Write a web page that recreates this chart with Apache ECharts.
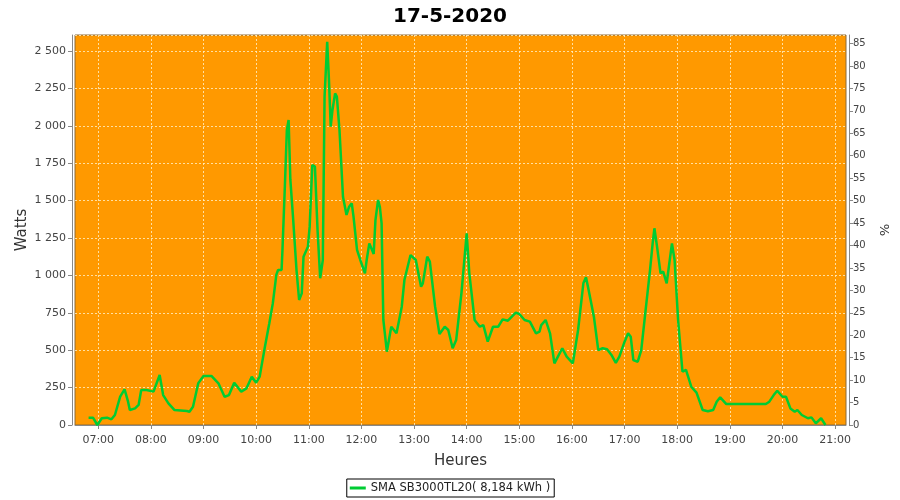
<!DOCTYPE html>
<html>
<head>
<meta charset="utf-8">
<script src="https://cdn.jsdelivr.net/npm/echarts@6/dist/echarts.min.js"></script>
<style>html,body{margin:0;padding:0;background:#fff}#c{width:900px;height:500px}</style>
</head>
<body>
<div id="c"></div>
<script>
// time in minutes since midnight
const times = [409,414,419,424,430,435,439,445,450,454,456,462,466,469,475,483,490,494,500,507,521,524,528,534,540,549,557,564,569,575,583,589,595,600,604,606,610,615,619,623,625,629,630,633,635,637,639,642,646,649,652,654,659,661,664,667,670,673,676,678,681,683,685,687,690,692,695,699,703,706,709,711,715,720,724,726,729,734,736,739,741,743,745,749,754,760,766,769,776,782,788,790,795,798,804,809,815,819,824,828,834,840,843,849,855,859,864,870,876,881,887,896,900,906,912,919,923,925,930,935,940,944,949,954,961,967,973,976,979,985,990,995,1000,1005,1010,1014,1020,1024,1027,1030,1035,1039,1044,1049,1052,1054,1057,1061,1064,1068,1071,1074,1077,1081,1086,1090,1096,1102,1109,1115,1121,1125,1129,1136,1181,1185,1190,1194,1200,1204,1209,1214,1217,1222,1229,1233,1238,1244,1249];
const watts = [49,49,0,45,49,38,67,190,238,156,100,111,134,234,234,223,334,200,145,100,94,89,122,279,328,328,279,189,200,283,223,245,323,283,323,390,523,680,813,1003,1036,1036,1170,1638,1972,2039,1638,1393,1036,836,880,1125,1192,1326,1738,1727,1303,981,1103,2195,2562,2306,1994,2106,2217,2195,1972,1526,1404,1459,1482,1393,1170,1081,1014,1103,1214,1143,1370,1504,1459,1348,702,490,657,613,791,969,1136,1103,924,947,1125,1092,791,608,657,635,513,568,880,1281,1014,702,657,668,557,657,657,706,697,751,742,702,691,613,624,668,702,613,412,457,513,457,412,635,947,987,902,724,501,513,506,468,416,457,557,613,590,434,423,501,769,1036,1214,1315,1192,1014,1025,947,1081,1214,1103,702,356,368,256,216,100,92,100,156,185,140,140,156,200,229,189,189,111,89,100,67,45,51,11,45,0];
const hourTicks = [420,480,540,600,660,720,780,840,900,960,1020,1080,1140,1200,1260];
const titleText = '17-5-2020';
const legendText = 'SMA SB3000TL20( 8,184 kWh )';

const pad = n => (n < 10 ? '0' : '') + n;
const fmtTime = v => pad(Math.floor(v / 60)) + ':' + pad(Math.round(v % 60));
const fmtThousands = v => String(v).replace(/\B(?=(\d{3})+(?!\d))/g, ' ');

const chart = echarts.init(document.getElementById('c'), null, {renderer: 'canvas'});
const font = 'DejaVu Sans';
const gridLine = {show: true, lineStyle: {color: 'rgba(255,240,200,0.8)', type: [2, 2], width: 1}};
chart.setOption({
  animation: false,
  backgroundColor: '#ffffff',
  title: {
    text: titleText, left: 'center', top: 2,
    textStyle: {fontFamily: font, fontSize: 20, fontWeight: 'bold', color: '#000'}
  },
  legend: {
    bottom: 3, left: 'center',
    data: [{name: legendText, icon: 'rect'}],
    itemWidth: 16, itemHeight: 3, itemGap: 3,
    borderColor: '#000', borderWidth: 1, padding: [3, 4, 3, 3],
    textStyle: {fontFamily: font, fontSize: 11.5, color: '#222'}
  },
  grid: {
    left: 75, right: 54, top: 35, bottom: 75,
    show: true, backgroundColor: '#ff9900', borderColor: '#8a6a3a', borderWidth: 1
  },
  xAxis: {
    type: 'value', min: 393.5, max: 1272.4,
    name: 'Heures', nameLocation: 'middle', nameGap: 25,
    nameTextStyle: {fontFamily: font, fontSize: 15, color: '#333'},
    offset: 4,
    axisLine: {show: true, lineStyle: {color: '#888'}},
    axisTick: {show: true, length: 4, lineStyle: {color: '#888'}, customValues: hourTicks},
    axisLabel: {customValues: hourTicks, formatter: fmtTime, fontFamily: font, fontSize: 11, color: '#444', margin: 6},
    splitLine: gridLine
  },
  yAxis: [{
    type: 'value', min: 0, max: 2607, interval: 250,
    name: 'Watts', nameLocation: 'middle', nameGap: 42, nameRotate: 90, nameMoveOverlap: false,
    nameTextStyle: {fontFamily: font, fontSize: 15, color: '#333'},
    offset: 3,
    axisLine: {show: true, lineStyle: {color: '#888'}},
    axisTick: {show: true, length: 4, lineStyle: {color: '#888'}},
    axisLabel: {formatter: fmtThousands, showMaxLabel: false, fontFamily: font, fontSize: 11, color: '#444', margin: 6},
    splitLine: gridLine
  }, {
    type: 'value', min: 0, max: 86.9, interval: 5, position: 'right',
    name: '%', nameLocation: 'middle', nameGap: 26, nameRotate: -90,
    nameTextStyle: {fontFamily: font, fontSize: 13, color: '#333'},
    offset: 3,
    axisLine: {show: true, lineStyle: {color: '#888'}},
    axisTick: {show: true, length: 4, lineStyle: {color: '#888'}},
    axisLabel: {showMaxLabel: false, fontFamily: font, fontSize: 10, color: '#444', margin: 4},
    splitLine: {show: false}
  }],
  series: [{
    name: legendText, type: 'line', yAxisIndex: 0,
    data: times.map((t, i) => [t, watts[i]]),
    showSymbol: false, symbol: 'none',
    lineStyle: {color: '#00cc33', width: 2.5},
    itemStyle: {color: '#00cc33'}
  }]
});
</script>
</body>
</html>
